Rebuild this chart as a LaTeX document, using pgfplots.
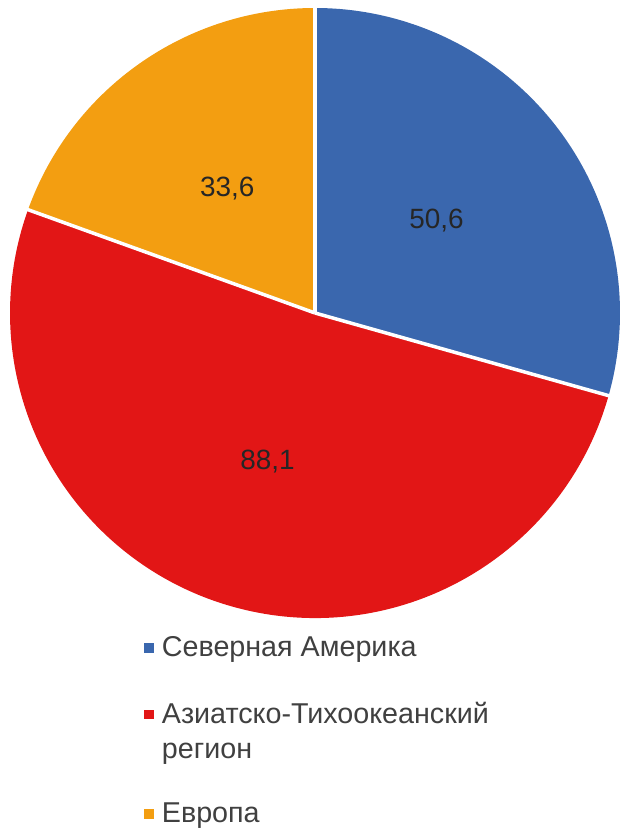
\documentclass[border=0pt]{standalone}
\usepackage{fontspec}
\setmainfont{Liberation Sans}
\usepackage{pgfplots}
\usepackage{pgfplotstable}
\pgfplotsset{compat=1.18}

\definecolor{cblue}{RGB}{58,103,174}
\definecolor{cred}{RGB}{226,22,22}
\definecolor{corange}{RGB}{243,158,17}
\definecolor{ctext}{RGB}{38,38,38}
\definecolor{clegend}{RGB}{64,64,64}

\pgfplotstableread{
region value
NA 50.6
AP 88.1
EU 33.6
}\piedata

\begin{document}
\begin{tikzpicture}
\pgfplotstablegetelem{0}{value}\of\piedata \let\va\pgfplotsretval
\pgfplotstablegetelem{1}{value}\of\piedata \let\vb\pgfplotsretval
\pgfplotstablegetelem{2}{value}\of\piedata \let\vc\pgfplotsretval
\pgfmathsetmacro\tot{\va+\vb+\vc}
\pgfmathsetmacro\aA{90}
\pgfmathsetmacro\aB{\aA-360*(\va/\tot)}
\pgfmathsetmacro\aC{\aB-360*(\vb/\tot)}
\pgfmathsetmacro\aD{\aC-360*(\vc/\tot)}
\pgfmathsetmacro\mA{(\aA+\aB)/2}
\pgfmathsetmacro\mB{(\aB+\aC)/2}
\pgfmathsetmacro\mC{(\aC+\aD)/2}
\begin{axis}[
  at={(315bp,520bp)}, anchor=center,
  x=305bp, y=305bp,
  xmin=-1, xmax=1, ymin=-1, ymax=1,
  hide axis,
  clip=false,
  legend cell align=left,
  legend style={
    draw=none, fill=none, inner sep=0pt, outer sep=0pt,
    at={(0.2197,-0.0229)}, anchor=north west,
    font=\fontsize{28.8}{35}\selectfont\color{clegend},
    nodes={inner sep=0pt, outer sep=0pt},
    cells={anchor=base west},
    row sep=40bp, column sep=9bp,
  },
]
\fill[cblue]   (0,0) -- ({cos(\aA)},{sin(\aA)}) arc[start angle=\aA, end angle=\aB, radius=305bp] -- cycle;
\fill[cred]    (0,0) -- ({cos(\aB)},{sin(\aB)}) arc[start angle=\aB, end angle=\aC, radius=305bp] -- cycle;
\fill[corange] (0,0) -- ({cos(\aC)},{sin(\aC)}) arc[start angle=\aC, end angle=\aD, radius=305bp] -- cycle;
\draw[white, line width=3.5bp] (0,0) -- ({1.01*cos(\aA)},{1.01*sin(\aA)});
\draw[white, line width=3.5bp] (0,0) -- ({1.01*cos(\aB)},{1.01*sin(\aB)});
\draw[white, line width=3.5bp] (0,0) -- ({1.01*cos(\aC)},{1.01*sin(\aC)});
\begin{scope}[every node/.style={font=\fontsize{28}{32}\selectfont, text=ctext}]
\node at ({0.5*cos(\mA)},{0.5*sin(\mA)}) {\pgfmathprintnumber[fixed, fixed zerofill, precision=1, use comma, assume math mode=true]{\va}};
\node at ({0.51*cos(\mB)},{0.51*sin(\mB)}) {\pgfmathprintnumber[fixed, fixed zerofill, precision=1, use comma, assume math mode=true]{\vb}};
\node at ({0.5*cos(\mC)},{0.5*sin(\mC)}) {\pgfmathprintnumber[fixed, fixed zerofill, precision=1, use comma, assume math mode=true]{\vc}};
\end{scope}
\addlegendimage{legend image code/.code={\fill[cblue] (0bp,5.25bp) rectangle (8.5bp,13.75bp);}}
\addlegendentry{\rule{0pt}{25bp}Северная Америка}
\addlegendimage{legend image code/.code={\fill[cred] (0bp,5.25bp) rectangle (8.5bp,13.75bp);}}
\addlegendentry{\begin{tabular}[t]{@{}l@{}}\rule{0pt}{25bp}Азиатско-Тихоокеанский\\регион\end{tabular}}
\addlegendimage{legend image code/.code={\fill[corange] (0bp,5.25bp) rectangle (8.5bp,13.75bp);}}
\addlegendentry{\rule{0pt}{58bp}Европа}
\end{axis}
\pgfresetboundingbox
\path[use as bounding box] (0,0) rectangle (633bp,833bp);
\end{tikzpicture}
\end{document}
